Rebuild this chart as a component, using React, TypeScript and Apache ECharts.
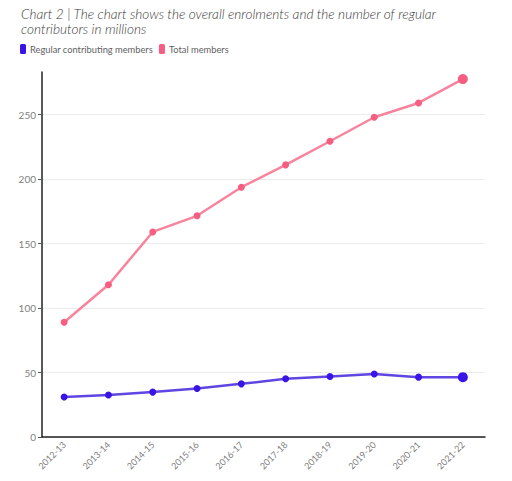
import React, { useEffect, useRef } from "react";
import * as echarts from "echarts";

const categories = ["2012-13", "2013-14", "2014-15", "2015-16", "2016-17", "2017-18", "2018-19", "2019-20", "2020-21", "2021-22"];
const regularMembers = [31, 32.5, 34.8, 37.6, 41.2, 45.1, 46.9, 48.8, 46.4, 46.4];
const totalMembers = [89, 118, 159, 171.5, 193.7, 211, 229.3, 247.9, 259, 277.5];
const yTicks = [0, 50, 100, 150, 200, 250];
const titleText = "Chart 2 | The chart shows the overall enrolments and the number of regular\ncontributors in millions";

const FONT = "Lato";

function withLastBig(values: number[]) {
  return values.map((v, i) => (i === values.length - 1 ? { value: v, symbolSize: 10 } : v));
}

export default function App() {
  const ref = useRef<HTMLDivElement>(null);
  useEffect(() => {
    if (!ref.current) return;
    const chart = echarts.init(ref.current, null, { renderer: "svg" });
    chart.setOption({
      animation: false,
      textStyle: { fontFamily: FONT },
      title: {
        text: titleText,
        left: 16,
        top: 1,
        textStyle: { fontFamily: FONT, fontSize: 13.6, fontStyle: "italic", fontWeight: 300, color: "#3a3a3a", lineHeight: 15 },
      },
      legend: {
        left: 15,
        top: 39,
        icon: "roundRect",
        itemWidth: 6,
        itemHeight: 10,
        itemGap: 6,
        textStyle: { fontFamily: FONT, fontSize: 9.3, color: "#5f5f5f", padding: [0, 0, 0, -1] },
        data: ["Regular contributing members", "Total members"],
      },
      grid: { left: 42, right: 27, top: 72, bottom: 44, containLabel: false },
      xAxis: {
        type: "category",
        data: categories,
        boundaryGap: true,
        axisLine: { lineStyle: { color: "#222", width: 1.5 } },
        axisTick: { alignWithLabel: true, length: 4, lineStyle: { color: "#555" } },
        axisLabel: { rotate: 45, fontSize: 9, color: "#808080", margin: 6, fontFamily: FONT },
        splitLine: { show: false },
      },
      yAxis: {
        type: "value",
        min: 0,
        max: 283,
        interval: 50,
        axisLine: { show: true, lineStyle: { color: "#222", width: 1.5 } },
        axisTick: { show: true, length: 4, customValues: yTicks, lineStyle: { color: "#555" } },
        axisLabel: { fontSize: 10, color: "#808080", margin: 6, customValues: yTicks, fontFamily: FONT },
        splitLine: { show: true, lineStyle: { color: "#ebebeb", width: 1 } },
      },
      series: [
        {
          name: "Regular contributing members",
          type: "line",
          data: withLastBig(regularMembers),
          symbol: "circle",
          symbolSize: 7,
          lineStyle: { color: "#5f46e2", width: 2.5 },
          itemStyle: { color: "#3a14e6" },
          z: 3,
        },
        {
          name: "Total members",
          type: "line",
          data: withLastBig(totalMembers),
          symbol: "circle",
          symbolSize: 7,
          lineStyle: { color: "#f7849c", width: 2.5 },
          itemStyle: { color: "#f55e80" },
          z: 2,
        },
      ],
    });
    return () => chart.dispose();
  }, []);
  return <div ref={ref} style={{ position: "absolute", left: 0, top: 0, width: 512, height: 481 }} />;
}
